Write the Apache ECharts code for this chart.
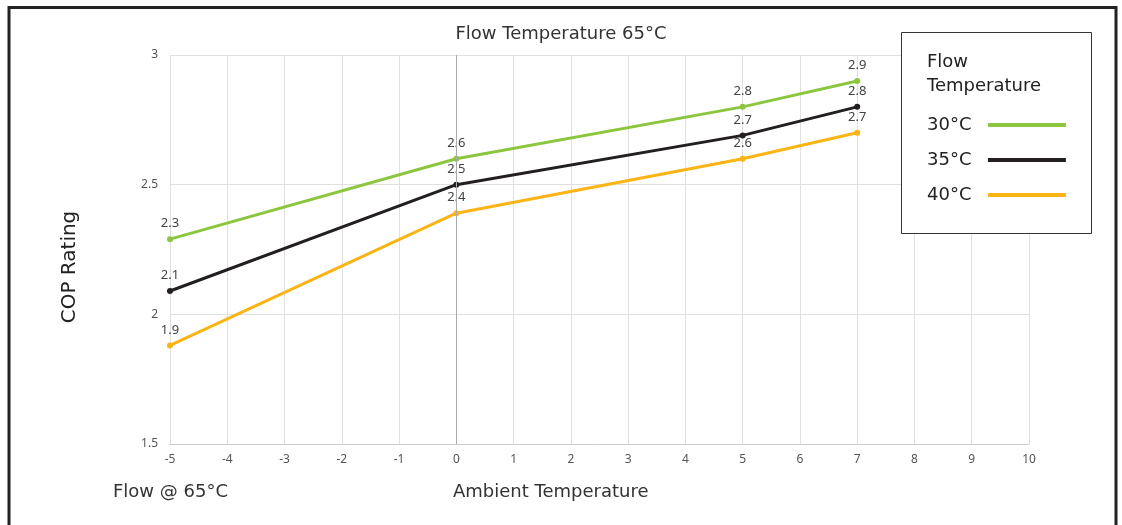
<!DOCTYPE html>
<html>
<head>
<meta charset="utf-8">
<script src="https://cdn.jsdelivr.net/npm/echarts@6/dist/echarts.min.js"></script>
<style>
html,body{margin:0;padding:0;background:#fff;}
#c{width:1122px;height:525px;}
</style>
</head>
<body>
<div id="c"></div>
<script>
var ambient = [-5, 0, 5, 7];
var seriesNames = ['30°C', '35°C', '40°C'];
var cop30 = [2.29, 2.6, 2.8, 2.9];
var cop35 = [2.09, 2.5, 2.69, 2.8];
var cop40 = [1.88, 2.39, 2.6, 2.7];
var colors = ['#8cc63f', '#231f20', '#fbb415'];
var titleText = 'Flow Temperature 65°C';
var yName = 'COP Rating';
var xName = 'Ambient Temperature';
var footText = 'Flow @ 65°C';
var legendTitle = ['Flow', 'Temperature'];

var FONT = 'DejaVu Sans';
var SMALL = 'Noto Sans';
var chart = echarts.init(document.getElementById('c'));

function mk(name, vals, color) {
  return {
    name: name,
    type: 'line',
    data: ambient.map(function (x, i) { return [x, vals[i]]; }),
    symbol: 'circle',
    symbolSize: 6,
    lineStyle: { width: 3, color: color },
    itemStyle: { color: color },
    label: {
      show: true, position: 'top', distance: 6,
      fontFamily: SMALL, fontSize: 13, color: '#444',
      formatter: function (p) { return p.value[1].toFixed(1); }
    }
  };
}

var series = [mk(seriesNames[0], cop30, colors[0]), mk(seriesNames[1], cop35, colors[1]), mk(seriesNames[2], cop40, colors[2])];
series[0].markLine = {
  silent: true, symbol: 'none', label: { show: false },
  lineStyle: { color: '#aaa', type: 'solid', width: 1 },
  data: [{ xAxis: 0 }]
};

chart.setOption({
  animation: false,
  textStyle: { fontFamily: FONT },
  grid: { left: 170, right: 93, top: 55, bottom: 81 },
  xAxis: {
    type: 'value', min: -5, max: 10, interval: 1,
    axisLine: { show: true, onZero: false, lineStyle: { color: '#ccc' } },
    axisTick: { show: false },
    axisLabel: { fontFamily: SMALL, fontSize: 12, color: '#555', margin: 10 },
    splitLine: { show: true, lineStyle: { color: '#e0e0e0' } }
  },
  yAxis: {
    type: 'value', min: 1.5, max: 3, interval: 0.5,
    axisLine: { show: false },
    axisTick: { show: false },
    axisLabel: { fontFamily: SMALL, fontSize: 12, color: '#555', margin: 12, padding: [6, 0, 0, 0] },
    splitLine: { show: true, lineStyle: { color: '#e0e0e0' } }
  },
  legend: {
    orient: 'vertical', left: 927, top: 116, z: 10, padding: 0,
    align: 'right', icon: 'rect', itemWidth: 78, itemHeight: 4, itemGap: 17,
    formatter: '{name}  ',
    textStyle: { fontFamily: FONT, fontSize: 18, color: '#222' },
    data: seriesNames
  },
  series: series,
  graphic: [
    { type: 'rect', shape: { x: 9, y: 7.5, width: 1107, height: 530 }, style: { fill: 'none', stroke: '#222', lineWidth: 3 }, silent: true },
    { type: 'text', left: 'center', top: 25, style: { text: titleText, font: '18px "' + FONT + '"', fill: '#333' } },
    { type: 'text', x: 70, y: 267, rotation: Math.PI / 2, style: { text: yName, font: '20px "' + FONT + '"', fill: '#222', align: 'center', verticalAlign: 'middle' } },
    { type: 'text', x: 113, y: 492, style: { text: footText, font: '18px "' + FONT + '"', fill: '#333', verticalAlign: 'middle' } },
    { type: 'text', x: 453, y: 492, style: { text: xName, font: '18px "' + FONT + '"', fill: '#333', verticalAlign: 'middle' } },
    { type: 'rect', shape: { x: 901.5, y: 32.5, width: 190, height: 201 }, style: { fill: '#fff', stroke: '#333', lineWidth: 1 }, z: 3, silent: true },
    { type: 'text', x: 927, y: 62, z: 6, style: { text: legendTitle[0], font: '18px "' + FONT + '"', fill: '#222', verticalAlign: 'middle' } },
    { type: 'text', x: 927, y: 86, z: 6, style: { text: legendTitle[1], font: '18px "' + FONT + '"', fill: '#222', verticalAlign: 'middle' } }
  ]
});
</script>
</body>
</html>
